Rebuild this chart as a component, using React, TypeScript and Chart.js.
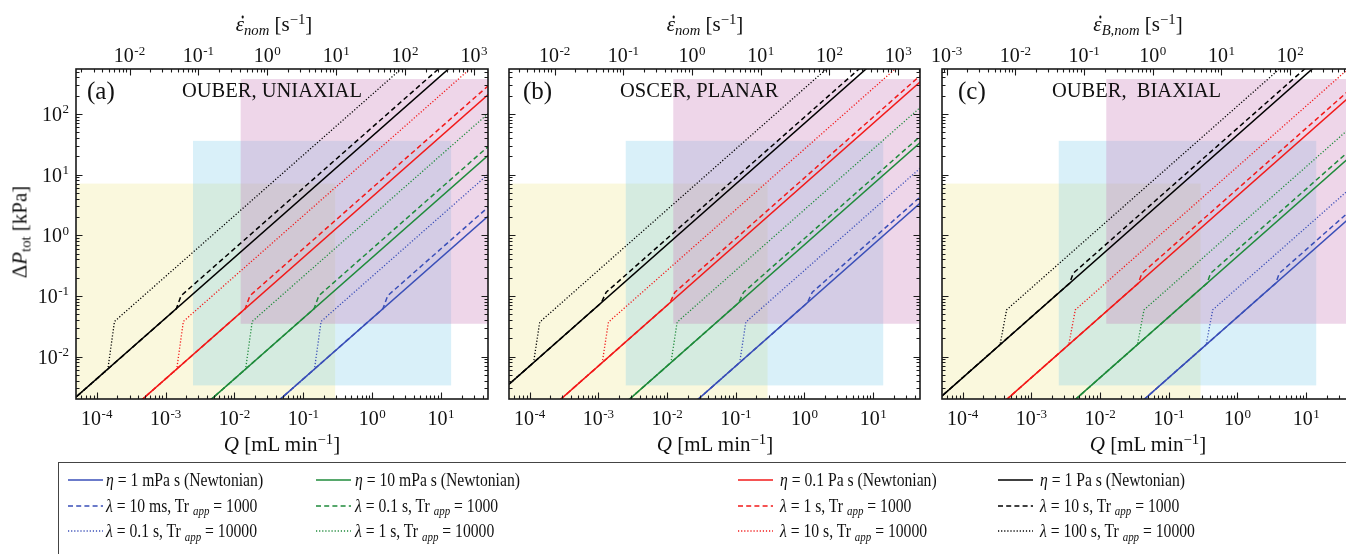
import React, { useEffect, useRef } from "react";
import { Chart, registerables } from "chart.js";

Chart.register(...registerables);

const FONT = "'Liberation Serif', 'Times New Roman', Times, serif";

// ---------------- axis ranges ----------------
const Q_RANGE = [5e-5, 48]; // Q [mL min^-1]
const DP_RANGE = [2e-3, 550]; // ΔP_tot [kPa]
const STRAIN_A = [1.67e-3, 1600];
const STRAIN_B = [2.17e-3, 2080];
const STRAIN_C = [8.55e-4, 821];

// ---------------- shaded operating windows (Q, ΔP) ----------------
const YELLOW_Q = [1e-6, 0.29];
const YELLOW_DP = [1e-4, 7.1];
const CYAN_Q = [2.5e-3, 14];
const CYAN_DP = [3.35e-3, 36];
const MAGENTA_Q = [0.0123, 1e4];
const MAGENTA_DP = [0.0348, 375];

// ---------------- panel (a) OUBER, uniaxial ----------------
const A_SOLID_Q = [1e-5, 100];
const A_SOLID_BLUE = [4.3e-7, 4.3];
const A_SOLID_GREEN = [4.3e-6, 43];
const A_SOLID_RED = [4.3e-5, 430];
const A_SOLID_BLACK = [4.3e-4, 4300];
const A_DASH_Q_BLUE = [1e-2, 1.43, 1.68, 100];
const A_DASH_Q_GREEN = [1e-3, 0.143, 0.168, 100];
const A_DASH_Q_RED = [1e-4, 0.0143, 0.0168, 100];
const A_DASH_Q_BLACK = [1e-5, 1.43e-3, 1.68e-3, 100];
const A_DASH_BLUE = [4.3e-4, 0.0615, 0.101, 6.02];
const A_DASH_GREEN = [4.3e-4, 0.0615, 0.101, 60.2];
const A_DASH_RED = [4.3e-4, 0.0615, 0.101, 602];
const A_DASH_BLACK = [4.3e-4, 0.0615, 0.101, 6020];
const A_DOT_Q_BLUE = [1e-2, 0.145, 0.181, 100];
const A_DOT_Q_GREEN = [1e-3, 0.0145, 0.0181, 100];
const A_DOT_Q_RED = [1e-4, 1.45e-3, 1.81e-3, 100];
const A_DOT_Q_BLACK = [1e-5, 1.45e-4, 1.81e-4, 100];
const A_DOT_BLUE = [4.3e-4, 6.2e-3, 0.038, 21];
const A_DOT_GREEN = [4.3e-4, 6.2e-3, 0.038, 210];
const A_DOT_RED = [4.3e-4, 6.2e-3, 0.038, 2100];
const A_DOT_BLACK = [4.3e-4, 6.2e-3, 0.038, 21000];

// ---------------- panel (b) OSCER, planar ----------------
const B_SOLID_Q = [1e-5, 100];
const B_SOLID_BLUE = [7e-7, 7];
const B_SOLID_GREEN = [7e-6, 70];
const B_SOLID_RED = [7e-5, 700];
const B_SOLID_BLACK = [7e-4, 7000];
const B_DASH_Q_BLUE = [1e-2, 1.1, 1.3, 100];
const B_DASH_Q_GREEN = [1e-3, 0.11, 0.13, 100];
const B_DASH_Q_RED = [1e-4, 0.011, 0.013, 100];
const B_DASH_Q_BLACK = [1e-5, 1.1e-3, 1.3e-3, 100];
const B_DASH_BLUE = [7e-4, 0.077, 0.115, 8.85];
const B_DASH_GREEN = [7e-4, 0.077, 0.115, 88.5];
const B_DASH_RED = [7e-4, 0.077, 0.115, 885];
const B_DASH_BLACK = [7e-4, 0.077, 0.115, 8850];
const B_DOT_Q_BLUE = [1e-2, 0.114, 0.14, 100];
const B_DOT_Q_GREEN = [1e-3, 0.0114, 0.014, 100];
const B_DOT_Q_RED = [1e-4, 1.14e-3, 1.4e-3, 100];
const B_DOT_Q_BLACK = [1e-5, 1.14e-4, 1.4e-4, 100];
const B_DOT_BLUE = [7e-4, 8e-3, 0.037, 26.4];
const B_DOT_GREEN = [7e-4, 8e-3, 0.037, 264];
const B_DOT_RED = [7e-4, 8e-3, 0.037, 2640];
const B_DOT_BLACK = [7e-4, 8e-3, 0.037, 26400];

// ---------------- panel (c) OUBER, biaxial ----------------
const C_SOLID_Q = [1e-5, 100];
const C_SOLID_BLUE = [4.5e-7, 4.5];
const C_SOLID_GREEN = [4.5e-6, 45];
const C_SOLID_RED = [4.5e-5, 450];
const C_SOLID_BLACK = [4.5e-4, 4500];
const C_DASH_Q_BLUE = [1e-2, 3.6, 4.06, 100];
const C_DASH_Q_GREEN = [1e-3, 0.36, 0.406, 100];
const C_DASH_Q_RED = [1e-4, 0.036, 0.0406, 100];
const C_DASH_Q_BLACK = [1e-5, 3.6e-3, 4.06e-3, 100];
const C_DASH_BLUE = [4.5e-4, 0.162, 0.236, 5.81];
const C_DASH_GREEN = [4.5e-4, 0.162, 0.236, 58.1];
const C_DASH_RED = [4.5e-4, 0.162, 0.236, 581];
const C_DASH_BLACK = [4.5e-4, 0.162, 0.236, 5810];
const C_DOT_Q_BLUE = [1e-2, 0.35, 0.436, 100];
const C_DOT_Q_GREEN = [1e-3, 0.035, 0.0436, 100];
const C_DOT_Q_RED = [1e-4, 3.5e-3, 4.36e-3, 100];
const C_DOT_Q_BLACK = [1e-5, 3.5e-4, 4.36e-4, 100];
const C_DOT_BLUE = [4.5e-4, 0.01575, 0.059, 13.5];
const C_DOT_GREEN = [4.5e-4, 0.01575, 0.059, 135];
const C_DOT_RED = [4.5e-4, 0.01575, 0.059, 1350];
const C_DOT_BLACK = [4.5e-4, 0.01575, 0.059, 13500];

// ---------------- legend values ----------------
const LEG_NEWT = ["1 mPa s", "10 mPa s", "0.1 Pa s", "1 Pa s"];
const LEG_TR1000 = ["10 ms", "0.1 s", "1 s", "10 s"];
const LEG_TR10000 = ["0.1 s", "1 s", "10 s", "100 s"];

// ---------------- styles ----------------
const BLUE = "#3a4fb8";
const GREEN = "#1f8b3b";
const RED = "#f21a1a";
const BLACK = "#000000";
const LINE_COLORS = [BLUE, GREEN, RED, BLACK];
const SHADE_YELLOW = "rgba(238, 232, 150, 0.32)";
const SHADE_CYAN = "rgba(120, 200, 232, 0.28)";
const SHADE_MAGENTA = "rgba(200, 120, 182, 0.30)";

type Style = "solid" | "dash" | "dot";
type Curve = [number[], number[], string, Style];

const CURVES_A: Curve[] = [
  [A_DOT_Q_BLUE, A_DOT_BLUE, BLUE, "dot"],
  [A_DOT_Q_GREEN, A_DOT_GREEN, GREEN, "dot"],
  [A_DOT_Q_RED, A_DOT_RED, RED, "dot"],
  [A_DOT_Q_BLACK, A_DOT_BLACK, BLACK, "dot"],
  [A_DASH_Q_BLUE, A_DASH_BLUE, BLUE, "dash"],
  [A_DASH_Q_GREEN, A_DASH_GREEN, GREEN, "dash"],
  [A_DASH_Q_RED, A_DASH_RED, RED, "dash"],
  [A_DASH_Q_BLACK, A_DASH_BLACK, BLACK, "dash"],
  [A_SOLID_Q, A_SOLID_BLUE, BLUE, "solid"],
  [A_SOLID_Q, A_SOLID_GREEN, GREEN, "solid"],
  [A_SOLID_Q, A_SOLID_RED, RED, "solid"],
  [A_SOLID_Q, A_SOLID_BLACK, BLACK, "solid"],
];
const CURVES_B: Curve[] = [
  [B_DOT_Q_BLUE, B_DOT_BLUE, BLUE, "dot"],
  [B_DOT_Q_GREEN, B_DOT_GREEN, GREEN, "dot"],
  [B_DOT_Q_RED, B_DOT_RED, RED, "dot"],
  [B_DOT_Q_BLACK, B_DOT_BLACK, BLACK, "dot"],
  [B_DASH_Q_BLUE, B_DASH_BLUE, BLUE, "dash"],
  [B_DASH_Q_GREEN, B_DASH_GREEN, GREEN, "dash"],
  [B_DASH_Q_RED, B_DASH_RED, RED, "dash"],
  [B_DASH_Q_BLACK, B_DASH_BLACK, BLACK, "dash"],
  [B_SOLID_Q, B_SOLID_BLUE, BLUE, "solid"],
  [B_SOLID_Q, B_SOLID_GREEN, GREEN, "solid"],
  [B_SOLID_Q, B_SOLID_RED, RED, "solid"],
  [B_SOLID_Q, B_SOLID_BLACK, BLACK, "solid"],
];
const CURVES_C: Curve[] = [
  [C_DOT_Q_BLUE, C_DOT_BLUE, BLUE, "dot"],
  [C_DOT_Q_GREEN, C_DOT_GREEN, GREEN, "dot"],
  [C_DOT_Q_RED, C_DOT_RED, RED, "dot"],
  [C_DOT_Q_BLACK, C_DOT_BLACK, BLACK, "dot"],
  [C_DASH_Q_BLUE, C_DASH_BLUE, BLUE, "dash"],
  [C_DASH_Q_GREEN, C_DASH_GREEN, GREEN, "dash"],
  [C_DASH_Q_RED, C_DASH_RED, RED, "dash"],
  [C_DASH_Q_BLACK, C_DASH_BLACK, BLACK, "dash"],
  [C_SOLID_Q, C_SOLID_BLUE, BLUE, "solid"],
  [C_SOLID_Q, C_SOLID_GREEN, GREEN, "solid"],
  [C_SOLID_Q, C_SOLID_RED, RED, "solid"],
  [C_SOLID_Q, C_SOLID_BLACK, BLACK, "solid"],
];

const SHADES = [
  { q: YELLOW_Q, dp: YELLOW_DP, color: SHADE_YELLOW },
  { q: CYAN_Q, dp: CYAN_DP, color: SHADE_CYAN },
  { q: MAGENTA_Q, dp: MAGENTA_DP, color: SHADE_MAGENTA },
];

function logTicks(min: number, max: number) {
  const out: { v: number; major: boolean; e: number }[] = [];
  for (let e = Math.floor(Math.log10(min)); e <= Math.ceil(Math.log10(max)); e++) {
    for (let m = 1; m <= 9; m++) {
      const v = m * Math.pow(10, e);
      if (v > min * 1.0001 && v < max * 0.9999) out.push({ v, major: m === 1, e });
    }
  }
  return out;
}

const BASE_FONT = `20px ${FONT}`;
const EXP_FONT = `13px ${FONT}`;

function drawPow(ctx: CanvasRenderingContext2D, e: number, x: number, y: number, align: "center" | "right") {
  const base = "10";
  const ex = String(e);
  ctx.font = BASE_FONT;
  const wb = ctx.measureText(base).width;
  ctx.font = EXP_FONT;
  const we = ctx.measureText(ex).width;
  const w = wb + 0.5 + we;
  const x0 = align === "center" ? x - w / 2 : x - w;
  ctx.textAlign = "left";
  ctx.textBaseline = "alphabetic";
  ctx.font = BASE_FONT;
  ctx.fillText(base, x0, y);
  ctx.font = EXP_FONT;
  ctx.fillText(ex, x0 + wb + 0.5, y - 7.5);
}

const shadePlugin = {
  id: "shade",
  beforeDatasetsDraw(chart: any) {
    const { ctx, chartArea } = chart;
    const xs = chart.scales.x;
    const ys = chart.scales.y;
    ctx.save();
    ctx.beginPath();
    ctx.rect(chartArea.left, chartArea.top, chartArea.right - chartArea.left, chartArea.bottom - chartArea.top);
    ctx.clip();
    for (const r of SHADES) {
      const x1 = xs.getPixelForValue(r.q[0]);
      const x2 = xs.getPixelForValue(r.q[1]);
      const y1 = ys.getPixelForValue(r.dp[0]);
      const y2 = ys.getPixelForValue(r.dp[1]);
      ctx.fillStyle = r.color;
      ctx.fillRect(Math.min(x1, x2), Math.min(y1, y2), Math.abs(x2 - x1), Math.abs(y2 - y1));
    }
    ctx.restore();
  },
};

const framePlugin = {
  id: "frame",
  afterDatasetsDraw(chart: any, _args: any, opts: any) {
    const { ctx, chartArea } = chart;
    const { left, right, top, bottom } = chartArea;
    const xs = chart.scales.x;
    const xt = chart.scales.x2;
    const ys = chart.scales.y;
    ctx.save();
    ctx.strokeStyle = "#1a1a1a";
    ctx.fillStyle = "#111";
    ctx.lineWidth = 1.1;
    ctx.beginPath();
    for (const t of logTicks(xs.min, xs.max)) {
      const px = Math.round(xs.getPixelForValue(t.v)) + 0.5;
      const L = t.major ? 6.5 : 3.5;
      ctx.moveTo(px, bottom);
      ctx.lineTo(px, bottom - L);
    }
    for (const t of logTicks(xt.min, xt.max)) {
      const px = Math.round(xt.getPixelForValue(t.v)) + 0.5;
      const L = t.major ? 6.5 : 3.5;
      ctx.moveTo(px, top);
      ctx.lineTo(px, top + L);
    }
    for (const t of logTicks(ys.min, ys.max)) {
      const py = Math.round(ys.getPixelForValue(t.v)) + 0.5;
      const L = t.major ? 6.5 : 3.5;
      ctx.moveTo(left, py);
      ctx.lineTo(left + L, py);
      ctx.moveTo(right, py);
      ctx.lineTo(right - L, py);
    }
    ctx.stroke();
    ctx.lineWidth = 1.6;
    ctx.strokeRect(left, top, right - left, bottom - top);

    // decade labels, through the chart's own scales
    for (const t of logTicks(xs.min, xs.max)) {
      if (t.major) drawPow(ctx, t.e, xs.getPixelForValue(t.v), bottom + 26, "center");
    }
    for (const t of logTicks(xt.min, xt.max)) {
      if (t.major) drawPow(ctx, t.e, xt.getPixelForValue(t.v), top - 7, "center");
    }
    if (opts && opts.showY) {
      for (const t of logTicks(ys.min, ys.max)) {
        if (t.major) drawPow(ctx, t.e, left - 7, ys.getPixelForValue(t.v) + 7, "right");
      }
    }
    ctx.restore();
  },
};

function buildDatasets(curves: Curve[]) {
  return curves.map(([q, p, color, style]) => ({
    data: q.map((x, i) => ({ x, y: p[i] })),
    borderColor: color,
    backgroundColor: color,
    borderWidth: style === "dot" ? 1.3 : 1.5,
    borderDash: style === "dash" ? [5, 3.2] : style === "dot" ? [1.2, 1.9] : [],
    pointRadius: 0,
    tension: 0,
    fill: false,
    xAxisID: "x",
    yAxisID: "y",
  }));
}

function makeConfig(curves: Curve[], strain: number[], showY: boolean, leftW: number, topH: number, bottomH: number, padRight: number) {
  const hidden = { display: false };
  return {
    type: "line",
    data: { datasets: buildDatasets(curves) },
    options: {
      animation: false,
      responsive: false,
      events: [],
      layout: { padding: { left: 0, right: padRight, top: 0, bottom: 0 } },
      plugins: { legend: { display: false }, tooltip: { enabled: false }, title: { display: false }, frame: { showY } },
      scales: {
        x: {
          type: "logarithmic",
          position: "bottom",
          min: Q_RANGE[0],
          max: Q_RANGE[1],
          border: { display: false },
          grid: { display: false, drawTicks: false },
          ticks: hidden,
          afterFit: (s: any) => { s.height = bottomH; },
        },
        x2: {
          type: "logarithmic",
          axis: "x",
          position: "top",
          min: strain[0],
          max: strain[1],
          border: { display: false },
          grid: { display: false, drawTicks: false },
          ticks: hidden,
          afterFit: (s: any) => { s.height = topH; },
        },
        y: {
          type: "logarithmic",
          position: "left",
          min: DP_RANGE[0],
          max: DP_RANGE[1],
          border: { display: false },
          grid: { display: false, drawTicks: false },
          ticks: hidden,
          afterFit: (s: any) => { s.width = leftW; },
        },
      },
    },
    plugins: [shadePlugin, framePlugin],
  };
}

function Panel(props: { curves: Curve[]; strain: number[]; showY: boolean; left: number; width: number; leftW: number }) {
  const ref = useRef<HTMLCanvasElement | null>(null);
  const H = 470;
  useEffect(() => {
    const chart = new Chart(ref.current as HTMLCanvasElement, makeConfig(props.curves, props.strain, props.showY, props.leftW, 69, H - 399, 7) as any);
    return () => chart.destroy();
  }, []);
  return (
    <canvas
      ref={ref}
      width={props.width}
      height={H}
      style={{ position: "absolute", left: props.left, top: 0, width: props.width, height: H }}
    />
  );
}

function Sub({ children }: any) {
  return <span style={{ fontSize: "0.7em", position: "relative", top: "0.3em" }}>{children}</span>;
}
function Sup({ children }: any) {
  return <span style={{ fontSize: "0.7em", position: "relative", top: "-0.45em" }}>{children}</span>;
}
function EpsDot() {
  return (
    <span style={{ position: "relative", display: "inline-block" }}>
      <i>ε</i>
      <span style={{ position: "absolute", left: "0.27em", top: "0.1em", width: 2.6, height: 2.6, borderRadius: "50%", background: "#111" }} />
    </span>
  );
}

const abs = (s: any) => ({ position: "absolute", whiteSpace: "pre", fontFamily: FONT, color: "#111", lineHeight: 1, ...s });
const centered = (x: number, y: number, size: number) => abs({ left: x, top: y, fontSize: size, transform: "translate(-50%, -50%)" });

const PANEL_TAGS = ["(a)", "(b)", "(c)"];
const PANEL_TITLES = ["OUBER, UNIAXIAL", "OSCER, PLANAR", "OUBER,  BIAXIAL"];
const TAG_X = [87, 523, 958];
const TITLE_X = [182, 620, 1052];
const TOP_TITLE_X = [274, 705, 1138];
const BOTTOM_TITLE_X = [282, 715, 1148];

const LEG_LINE_X = [68, 316, 738, 998];
const LEG_TEXT_X = [106, 355, 780, 1040];
const LEG_ROW_Y = [480, 505.5, 531];

function LegendLine({ x, y, color, style }: any) {
  const dash = style === "dash" ? "5 3.2" : style === "dot" ? "1.2 1.9" : undefined;
  return (
    <svg width={36} height={6} style={{ position: "absolute", left: x, top: y - 3 }}>
      <line x1={0} y1={3} x2={35} y2={3} stroke={color} strokeWidth={style === "dot" ? 1.3 : 1.6} strokeDasharray={dash} />
    </svg>
  );
}

export default function App() {
  const legendItems: any[] = [];
  for (let c = 0; c < 4; c++) {
    const color = LINE_COLORS[c];
    const rows = [
      { style: "solid", content: (<><i>η</i> = {LEG_NEWT[c]} (Newtonian)</>) },
      { style: "dash", content: (<><i>λ</i> = {LEG_TR1000[c]}, Tr <Sub><i>app</i></Sub> = 1000</>) },
      { style: "dot", content: (<><i>λ</i> = {LEG_TR10000[c]}, Tr <Sub><i>app</i></Sub> = 10000</>) },
    ];
    rows.forEach((r, i) => {
      legendItems.push(<LegendLine key={`l${c}${i}`} x={LEG_LINE_X[c]} y={LEG_ROW_Y[i]} color={color} style={r.style} />);
      legendItems.push(
        <div
          key={`t${c}${i}`}
          style={abs({ left: LEG_TEXT_X[c], top: LEG_ROW_Y[i], fontSize: 18, transform: "translateY(-50%) scaleX(0.87)", transformOrigin: "0 50%" })}
        >
          {r.content}
        </div>
      );
    });
  }

  return (
    <div style={{ position: "absolute", left: 0, top: 0, width: 1346, height: 554, overflow: "hidden", background: "#fff" }}>
      <Panel curves={CURVES_A} strain={STRAIN_A} showY={true} left={0} width={495} leftW={76} />
      <Panel curves={CURVES_B} strain={STRAIN_B} showY={false} left={495} width={432} leftW={14} />
      <Panel curves={CURVES_C} strain={STRAIN_C} showY={false} left={927} width={433} leftW={15} />

      {PANEL_TAGS.map((t, i) => (
        <div key={t} style={abs({ left: TAG_X[i], top: 90, fontSize: 25, transform: "translateY(-50%)" })}>{t}</div>
      ))}
      {PANEL_TITLES.map((t, i) => (
        <div key={t} style={abs({ left: TITLE_X[i], top: 90, fontSize: 20.5, transform: "translateY(-50%)" })}>{t}</div>
      ))}

      <div style={centered(TOP_TITLE_X[0], 24, 21)}><EpsDot /><Sub><i>nom</i></Sub> [s<Sup>−1</Sup>]</div>
      <div style={centered(TOP_TITLE_X[1], 24, 21)}><EpsDot /><Sub><i>nom</i></Sub> [s<Sup>−1</Sup>]</div>
      <div style={centered(TOP_TITLE_X[2], 24, 21)}><EpsDot /><Sub><i>B,nom</i></Sub> [s<Sup>−1</Sup>]</div>

      {BOTTOM_TITLE_X.map((x, i) => (
        <div key={`q${i}`} style={centered(x, 444, 21)}><i>Q</i> [mL min<Sup>−1</Sup>]</div>
      ))}

      <div style={abs({ left: 20, top: 232, fontSize: 21, transform: "translate(-50%, -50%) rotate(-90deg)" })}>
        Δ<i>P</i><Sub>tot</Sub> [kPa]
      </div>

      <div style={{ position: "absolute", left: 58, top: 462, width: 1400, height: 200, border: "1px solid #444", boxSizing: "border-box" }} />
      {legendItems}
    </div>
  );
}
